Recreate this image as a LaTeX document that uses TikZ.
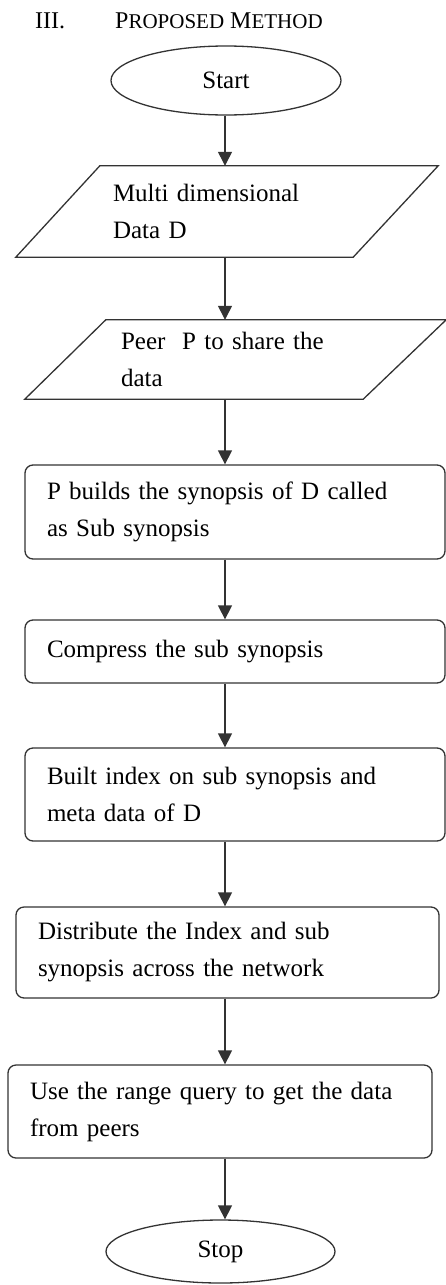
\documentclass[tikz,border=0pt]{standalone}
\usepackage{fontspec}
\setmainfont{Liberation Serif}
\usetikzlibrary{shapes.geometric,arrows.meta,calc}

\tikzset{
  line/.style={draw=black!80, line width=1.3pt},
  startstop/.style={shape=ellipse, draw=black!80, line width=1.3pt, inner sep=0pt},
  process/.style={shape=rectangle, rounded corners=8pt, draw=black!80, line width=1.3pt, align=left, inner xsep=22pt, inner ysep=0pt},
  io/.style={shape=rectangle, align=left, inner ysep=0pt},
  flow/.style={-{Triangle[length=14pt,width=14pt]}, draw=black!80, line width=1.3pt}
}
\newcommand{\smcap}[1]{{\fontsize{21}{21}\selectfont #1}}

\begin{document}
\begin{tikzpicture}[x=1pt,y=-1pt,font=\fontsize{25}{37}\selectfont]
\useasboundingbox (0,0) rectangle (446,1285);

% heading
\path (35,28) node (num) [anchor=base west, inner sep=0pt, font=\fontsize{24}{24}\selectfont] {III.};
\path (115,28) node (title) [anchor=base west, inner sep=0pt, font=\fontsize{24}{24}\selectfont] {P\smcap{ROPOSED} M\smcap{ETHOD}};

\path (226,80.5) node (start) [startstop, minimum width=230pt, minimum height=69pt] {Start};

\path (227,211.5) node (data) [io, minimum height=91pt, text width=228pt, inner xsep=97pt] {Multi dimensional\\Data D};
\draw [line] ($(data.north west)+(84,0)$) -- (data.north east) -- ($(data.south east)+(-85,0)$) -- (data.south west) -- cycle;

\path (235.5,359.5) node (peer) [io, minimum height=79pt, text width=229pt, inner xsep=96pt] {Peer\ \ P to share the\\data};
\draw [line] ($(peer.north west)+(81,0)$) -- (peer.north east) -- ($(peer.south east)+(-83,0)$) -- (peer.south west) -- cycle;

\path (235,512) node (sub) [process, minimum height=94pt, text width=376pt] {P builds the synopsis of D called\\as Sub synopsis};
\path (235,651.5) node (comp) [process, minimum height=63pt, text width=376pt] {Compress the sub synopsis};
\path (235,794.5) node (index) [process, minimum height=93pt, text width=376pt] {Built index on sub synopsis and\\meta data of D};
\path (227.5,952.5) node (dist) [process, minimum height=91pt, text width=379pt] {Distribute the Index and sub\\synopsis across the network};
\path (220,1111.5) node (query) [process, minimum height=93pt, text width=380pt] {Use the range query to get the data\\from peers};

\path (220.5,1251.5) node (stop) [startstop, minimum width=229pt, minimum height=63pt] {Stop};

\coordinate (axis) at (225,0);
\draw [flow] (start.south -| axis) -- (data.north -| axis);
\draw [flow] (data.south -| axis) -- (peer.north -| axis);
\draw [flow] (peer.south -| axis) -- (sub.north -| axis);
\draw [flow] (sub.south -| axis) -- (comp.north -| axis);
\draw [flow] (comp.south -| axis) -- (index.north -| axis);
\draw [flow] (index.south -| axis) -- (dist.north -| axis);
\draw [flow] (dist.south -| axis) -- (query.north -| axis);
\draw [flow] (query.south -| axis) -- (stop.north -| axis);

\end{tikzpicture}
\end{document}
